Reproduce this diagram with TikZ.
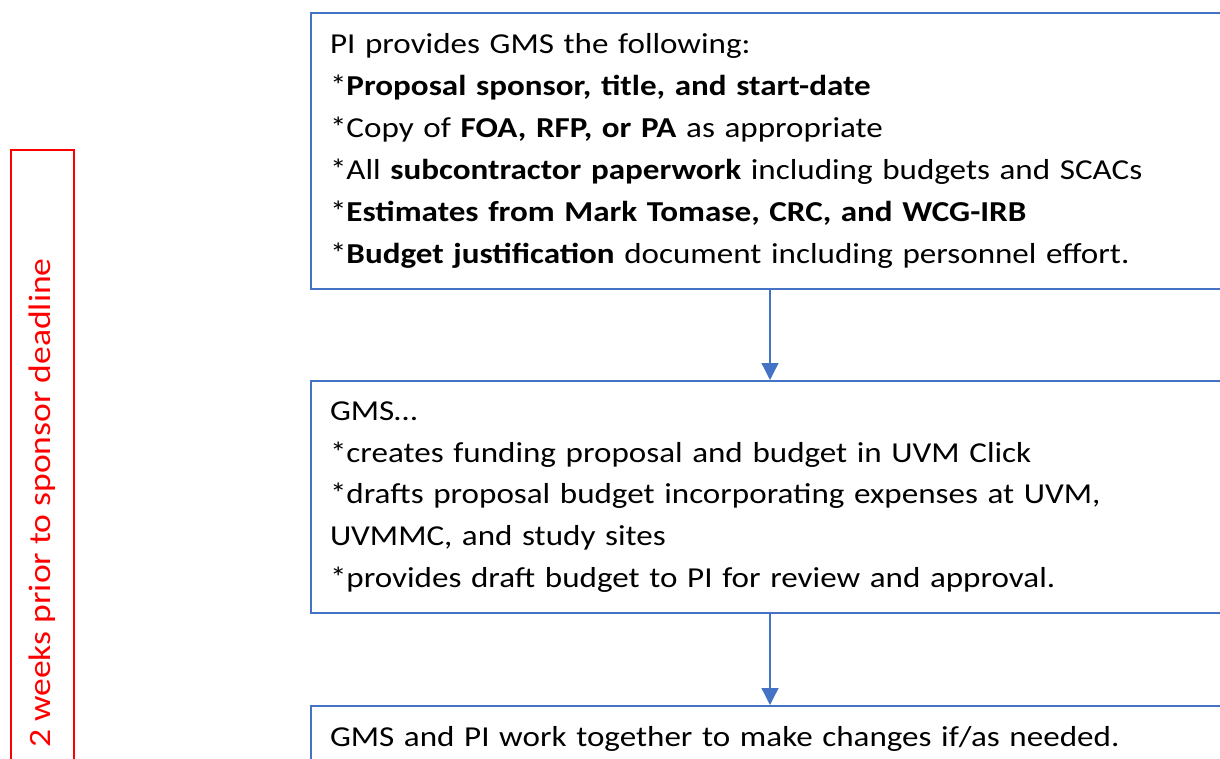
\documentclass[tikz,border=0pt]{standalone}
\usepackage{fontspec}
\setmainfont{Carlito}[FakeStretch=1.145]
\usetikzlibrary{positioning}
\usetikzlibrary{arrows.meta}

\definecolor{boxblue}{RGB}{68,114,196}

\tikzset{
  stepbox/.style={draw=boxblue, line width=2bp, anchor=north west,
    minimum width=960bp, inner xsep=19bp, text width=922bp, align=left,
    font=\fontsize{29}{42}\selectfont},
  deadbox/.style={draw=red, line width=1.5bp, text=red, rotate=90,
    minimum width=706bp, minimum height=63bp, inner sep=0pt,
    font=\fontsize{31.2}{38}\selectfont},
  flow/.style={draw=boxblue, line width=1.3bp, -{Triangle[length=17bp,width=17bp]}},
}

\begin{document}
\begin{tikzpicture}[x=1bp, y=-1bp]
\useasboundingbox (0,0) rectangle (1220,759);

\node[deadbox] (deadline) at (42.5,503) {2 weeks prior to sponsor deadline};

\node[stepbox, minimum height=276bp] (pi) at (310,12) {PI provides GMS the following:\\{}
*\textbf{Proposal sponsor, title, and start-date}\\{}
*Copy of \textbf{FOA, RFP, or PA} as appropriate\\{}
*All \textbf{subcontractor paperwork} including budgets and SCACs\\{}
*\textbf{Estimates from Mark Tomase, CRC, and WCG-IRB}\\{}
*\textbf{Budget justification} document including personnel effort.};

\node[stepbox, minimum height=232bp] (gms) at (310,380) {GMS…\\{}
*creates funding proposal and budget in UVM Click\\{}
*drafts proposal budget incorporating expenses at UVM,\\{}
UVMMC, and study sites\\{}
*provides draft budget to PI for review and approval.};

\node[stepbox, minimum height=66bp] (work) at (310,705) {GMS and PI work together to make changes if/as needed.};

\draw[flow] ([xshift=460bp]pi.south west) -- ([xshift=460bp]gms.north west);
\draw[flow] ([xshift=460bp]gms.south west) -- ([xshift=460bp]work.north west);
\end{tikzpicture}
\end{document}
